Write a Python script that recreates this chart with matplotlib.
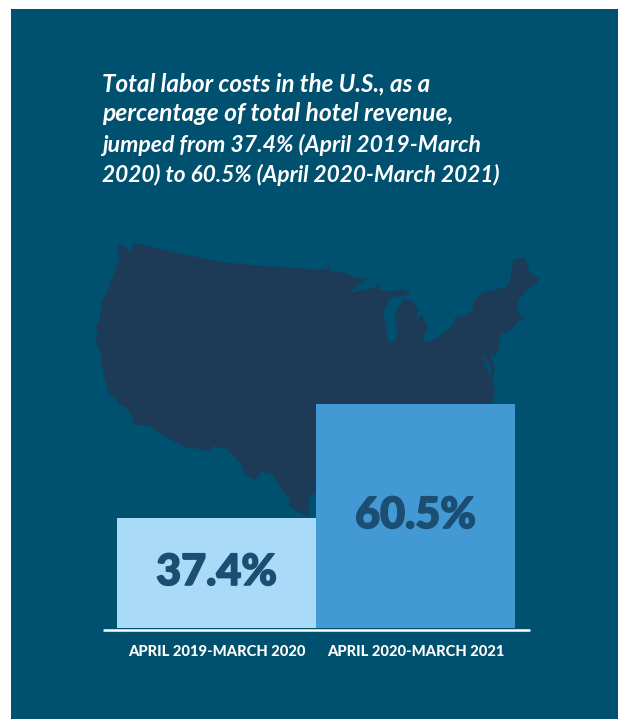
import matplotlib
matplotlib.use('Agg')
import matplotlib.pyplot as plt
import matplotlib.patheffects as pe
from matplotlib.patches import Polygon

W, H = 618, 719

# chart values
periods = ['APRIL 2019-MARCH 2020', 'APRIL 2020-MARCH 2021']
values = [37.4, 60.5]
# the bars in the picture are not zero based, this is where the baseline sits
axis_floor = 15.1
title_lines = ['Total labor costs in the U.S., as a',
               'percentage of total hotel revenue,',
               'jumped from 37.4% (April 2019-March',
               '2020) to 60.5% (April 2020-March 2021)']
# Lato runs a bit different per line from the original font
title_sizes = [17.4, 17.7, 16.6, 16.3]

BG = '#00506F'
MAP = '#1D3A57'
LIGHT = '#A9DBF8'
BLUE = '#4399D3'
DARK_TXT = '#1C4D72'

# US silhouette, pixels from the top left
map_x = [118.3, 125, 131.7, 133.3, 173, 220, 260, 310, 326.7, 328.3, 331, 343.3, 356.7, 368.3, 360, 350, 360, 373,
         381, 378.3, 390, 401.7, 410, 410, 400, 390, 383.3, 386, 387.3, 391, 396, 397.3, 395, 397.3, 405, 413.3,
         418.3, 416, 421.7, 427.3, 422.3, 428.3, 436.7, 455, 454, 466.7, 474.3, 471.7, 481.7, 506.7, 510, 513.3,
         518.3, 525, 530, 539, 536.7, 526.7, 518.3, 517.3, 523.3, 526.7, 518.3, 511.7, 500, 499.3, 499, 495.7,
         490, 495.3, 491.7, 492.7, 495.7, 492.7, 492.7, 480, 330, 316, 310, 307.7, 310, 300, 290, 289, 281.7,
         276.7, 272.7, 261.7, 255, 245, 240.7, 225.7, 211.7, 210.7, 183.3, 155, 153.3, 133.3, 132.7, 125, 119.3,
         116, 109.3, 102.7, 105, 101.7, 101.7, 96, 97.3, 95.7, 100, 101.7, 108.3, 117.3, 119.3, 117.7]
map_y = [244, 247.3, 252.7, 242.7, 252, 262, 265.7, 269, 269.3, 264, 271, 272.3, 278.3, 278.3, 283.3, 292.7, 290.7, 288,
         282.3, 289.3, 291.7, 289, 291.7, 295, 296, 298.3, 311.7, 326.7, 340, 343.3, 340, 330, 318.3, 308.3, 299, 301.7,
         310, 319.3, 314, 327.3, 340, 341.7, 338.3, 323.3, 318.3, 315, 308.3, 304, 293.3, 286.7, 281.7, 260,
         258.3, 258.3, 273.3, 278.3, 283.3, 290, 300, 311.7, 319.3, 318.3, 321.7, 329.3, 335, 340, 348.3, 356,
         352.7, 368.3, 376.7, 381.7, 390, 396.7, 403.3, 420, 500, 491.7, 496.7, 505, 516, 512.7, 506.7, 498.3, 490,
         480, 474.3, 471.7, 480, 474.3, 463.3, 448.3, 446, 450.7, 446.7, 430, 426.7, 424, 416.7, 406.7, 405,
         398.3, 395, 371.7, 370, 365, 356.7, 341.7, 331.7, 327.3, 318.3, 301.7, 290, 263.3, 260, 246.7]
bay_x = [482.7, 485, 484, 486.7, 490, 491.7, 486.7, 485]
bay_y = [355, 363.3, 366.7, 368.3, 376.7, 368.3, 361.7, 355]

# faint state borders
state_lines = [
    [(167, 266), (160, 300), (192, 303), (205, 281)],
    [(135, 320), (160, 322), (200, 326), (257, 305), (262, 268)],
    [(128, 348), (135, 320)],
    [(178, 330), (170, 390), (155, 430)],
    [(215, 348), (205, 440)],
    [(215, 348), (272, 350), (268, 395), (210, 392)],
    [(262, 300), (320, 298), (348, 296)],
    [(258, 330), (320, 332), (372, 335)],
    [(262, 401), (292, 396), (288, 445)],
    [(352, 296), (345, 345), (360, 385)],
    [(390, 343), (392, 370), (380, 395)],
    [(440, 345), (445, 370), (490, 360)],
    [(322, 272), (322, 330)],
]

fig = plt.figure(figsize=(W / 100, H / 100), dpi=100, facecolor='white')

# background layer, drawn in pixels
bgax = fig.add_axes([0, 0, 1, 1])
bgax.set_xlim(0, W)
bgax.set_ylim(H, 0)
bgax.axis('off')
bgax.add_patch(Polygon([(11, 9), (W, 9), (W, H), (11, H)], closed=True, fc=BG, ec='none'))
bgax.add_patch(Polygon(list(zip(map_x, map_y)), closed=True, fc=MAP, ec='none'))
bgax.add_patch(Polygon(list(zip(bay_x, bay_y)), closed=True, fc=BG, ec='none'))
for seg in state_lines:
    bgax.plot([p[0] for p in seg], [p[1] for p in seg], color='#1F3F5C', lw=0.5)

y = 91
for line, size in zip(title_lines, title_sizes):
    bgax.text(102, y, line, color='white', fontsize=size, family='Lato', weight='bold', style='italic',
              ha='left', va='baseline')
    y += 30.4

# bars, the axes box runs from the tallest top to the baseline
ax = fig.add_axes([117 / W, 1 - 628 / H, 398 / W, 224 / H])
ax.patch.set_alpha(0)
ax.bar([0, 1], [v - axis_floor for v in values], bottom=axis_floor, width=1, color=[LIGHT, BLUE])
ax.set_xlim(-0.5, 1.5)
ax.set_ylim(axis_floor, max(values))
ax.set_yticks([])
ax.set_xticks([0, 1])
ax.set_xticklabels(periods, color='white', fontsize=10.6, family='Lato', weight='black')
ax.tick_params(axis='x', length=0, pad=12)
for s in ax.spines.values():
    s.set_visible(False)
for i, v in enumerate(values):
    t = ax.text(i, (v + axis_floor) / 2 + 0.2, '%.1f%%' % v, color=DARK_TXT, fontsize=31, family='Lato',
                weight='black', ha='center', va='center')
    # original digits are heavier than Lato's
    t.set_path_effects([pe.withStroke(linewidth=1.2, foreground=DARK_TXT)])

# white baseline
bgax2 = fig.add_axes([0, 0, 1, 1])
bgax2.set_xlim(0, W)
bgax2.set_ylim(H, 0)
bgax2.axis('off')
bgax2.plot([103, 530], [629.5, 629.5], color='white', lw=1.8, solid_capstyle='butt')

fig.savefig('out.png', dpi=100)
